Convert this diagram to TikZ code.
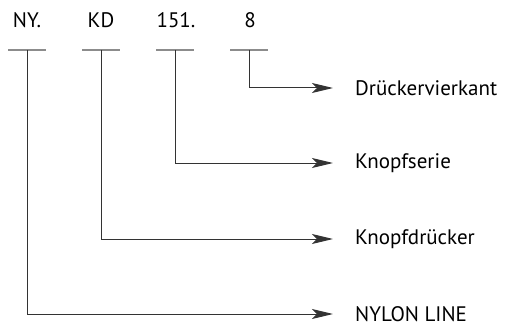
\documentclass[tikz,border=0pt]{standalone}
\usepackage{fontspec}
\setmainfont{PT Sans}
\usetikzlibrary{arrows.meta,positioning}

\begin{document}
\begin{tikzpicture}[x=1pt,y=-1pt,>={Stealth[length=21pt,width=10pt,inset=5pt]},
  code/.style={inner sep=0pt,anchor=base,font=\fontsize{21}{25}\selectfont},
  what/.style={inner sep=0pt,anchor=west,font=\fontsize{21}{25}\selectfont},
  bar/.style={draw=black!45,line width=1.8pt},
  conn/.style={draw=black!80,line width=1pt}]
\useasboundingbox (0,0) rectangle (505,326);
% code parts
\node[code] (ny) at (27,28) {NY.};
\node[code] (kd) at (101,28) {KD};
\node[code] (ser) at (176,28) {151.};
\node[code] (vk) at (250,28) {8};
% bars under the parts
\foreach \n/\x in {ny/27,kd/101,ser/175,vk/249}
  \draw[bar] (\x-19,50) -- coordinate (b\n) (\x+19,50);
% meanings
\node[what] (tvk) at (355,88) {Drückervierkant};
\node[what] (tser) at (355,163) {Knopfserie};
\node[what] (tkd) at (355,239) {Knopfdrücker};
\node[what] (tny) at (355,314) {NYLON LINE};
% connectors
\draw[conn,->] (bvk) |- ([xshift=-22pt]tvk.west);
\draw[conn,->] (bser) |- ([xshift=-22pt]tser.west);
\draw[conn,->] (bkd) |- ([xshift=-22pt]tkd.west);
\draw[conn,->] (bny) |- ([xshift=-22pt]tny.west);
\end{tikzpicture}
\end{document}
